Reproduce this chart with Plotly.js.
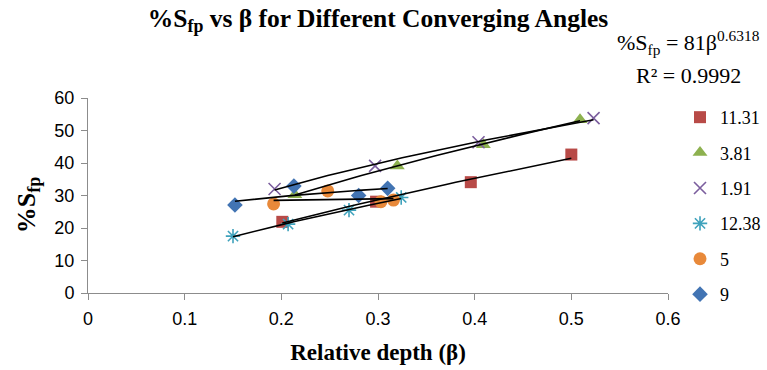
<!DOCTYPE html>
<html>
<head>
<meta charset="utf-8">
<script src="https://cdn.plot.ly/plotly-3.0.1.min.js"></script>
<style>html,body{margin:0;padding:0;background:#fff;}#chart{width:767px;height:370px;}</style>
</head>
<body>
<div id="chart"></div>
<script>
// Data
var seriesNames = ["11.31", "3.81", "1.91", "12.38", "5", "9"];
var x_11_31 = [0.201, 0.298, 0.396, 0.500];
var y_11_31 = [21.9, 28.1, 34.1, 42.6];
var x_3_81 = [0.214, 0.320, 0.409, 0.509];
var y_3_81 = [30.2, 39.1, 45.6, 53.3];
var x_1_91 = [0.193, 0.297, 0.404, 0.523];
var y_1_91 = [32.0, 39.1, 46.4, 53.8];
var x_12_38 = [0.150, 0.207, 0.270, 0.324];
var y_12_38 = [17.5, 21.2, 25.5, 29.4];
var x_5 = [0.192, 0.248, 0.303, 0.316];
var y_5 = [27.4, 31.4, 28.1, 28.6];
var x_9 = [0.152, 0.213, 0.280, 0.310];
var y_9 = [27.1, 32.9, 30.0, 32.2];
var xTicks = [0, 0.1, 0.2, 0.3, 0.4, 0.5, 0.6];
var yTicks = [0, 10, 20, 30, 40, 50, 60];

var xs = [x_11_31, x_3_81, x_1_91, x_12_38, x_5, x_9];
var ys = [y_11_31, y_3_81, y_1_91, y_12_38, y_5, y_9];
var colors = ["#B84A47", "#8DB14F", "#7B5E9E", "#3FA2BC", "#E8893A", "#4274B3"];
var symbols = ["square", "triangle-up", "x-thin-open", "asterisk-open", "circle", "diamond"];
var sizes = [12, 13, 12, 12, 13, 12];

var traces = [];
for (var i = 0; i < seriesNames.length; i++) {
  var lineMarker = (symbols[i].indexOf("open") >= 0);
  traces.push({
    x: xs[i], y: ys[i], type: "scatter", mode: "markers", name: seriesNames[i],
    legendgroup: "g" + i,
    marker: {symbol: symbols[i], size: sizes[i], color: colors[i],
             line: {color: colors[i], width: lineMarker ? 1.6 : 0}}
  });
}
// Power trendlines (least-squares fit in log space, as Excel does)
for (var i = 0; i < seriesNames.length; i++) {
  var X = xs[i], Y = ys[i], n = X.length, mx = 0, my = 0;
  for (var k = 0; k < n; k++) { mx += Math.log(X[k]); my += Math.log(Y[k]); }
  mx /= n; my /= n;
  var sxy = 0, sxx = 0;
  for (var k = 0; k < n; k++) {
    var dx = Math.log(X[k]) - mx; sxy += dx * (Math.log(Y[k]) - my); sxx += dx * dx;
  }
  var b = sxy / sxx, a = Math.exp(my - b * mx);
  var xmin = Math.min.apply(null, X), xmax = Math.max.apply(null, X);
  var tx = [], ty = [];
  for (var k = 0; k <= 30; k++) {
    var xv = xmin + (xmax - xmin) * k / 30;
    tx.push(xv); ty.push(a * Math.pow(xv, b));
  }
  traces.push({x: tx, y: ty, type: "scatter", mode: "lines", showlegend: false,
               hoverinfo: "skip", line: {color: "#000", width: 1.6}});
}

var serif = "Liberation Serif, Times New Roman, serif";
var sans = "Liberation Sans, Arial, sans-serif";
var layout = {
  width: 767, height: 370,
  margin: {l: 88, r: 99, t: 98, b: 77, autoexpand: false},
  paper_bgcolor: "#fff", plot_bgcolor: "#fff",
  showlegend: true,
  title: {text: "<b>%S<sub>fp</sub> vs β for Different Converging Angles</b>",
          font: {family: serif, size: 25.5, color: "#000"},
          x: 0.5, xref: "paper", yref: "container", y: 0.952, yanchor: "middle"},
  xaxis: {range: [0, 0.6], tickvals: xTicks, ticktext: xTicks.map(String),
          showgrid: false, zeroline: false, showline: true, linecolor: "#8c8c8c", linewidth: 1,
          ticks: "outside", ticklen: 6, tickcolor: "#8c8c8c", ticklabelstandoff: 3,
          tickfont: {family: sans, size: 18, color: "#000"},
          title: {text: "<b>Relative depth (β)</b>", font: {family: serif, size: 23, color: "#000"}, standoff: 16}},
  yaxis: {range: [0, 60], tickvals: yTicks, ticktext: yTicks.map(String),
          showgrid: false, zeroline: false, showline: true, linecolor: "#8c8c8c", linewidth: 1,
          ticks: "outside", ticklen: 6, tickcolor: "#8c8c8c", ticklabelstandoff: 3,
          tickfont: {family: sans, size: 18, color: "#000"}},
  legend: {x: 1.0207, xanchor: "left", y: 0.995, yanchor: "top", maxheight: 330,
           font: {family: serif, size: 18, color: "#000"},
           tracegroupgap: 9, itemwidth: 30, bgcolor: "rgba(0,0,0,0)"},
  annotations: [
    {text: "<b>%S<sub>fp</sub></b>", xref: "paper", yref: "paper", textangle: -90,
     x: -0.1034, y: 0.45, xanchor: "center", yanchor: "middle", showarrow: false,
     font: {family: serif, size: 26, color: "#000"}},
    {text: "%S<sub>fp</sub> = 81β<sup>0.6318</sup>", xref: "paper", yref: "paper",
     x: 1.036, y: 1.287, xanchor: "center", yanchor: "middle", showarrow: false,
     font: {family: serif, size: 22, color: "#000"}},
    {text: "R² = 0.9992", xref: "paper", yref: "paper",
     x: 1.036, y: 1.113, xanchor: "center", yanchor: "middle", showarrow: false,
     font: {family: serif, size: 22, color: "#000"}}
  ]
};
Plotly.newPlot("chart", traces, layout, {displayModeBar: false, staticPlot: true});
</script>
</body>
</html>
